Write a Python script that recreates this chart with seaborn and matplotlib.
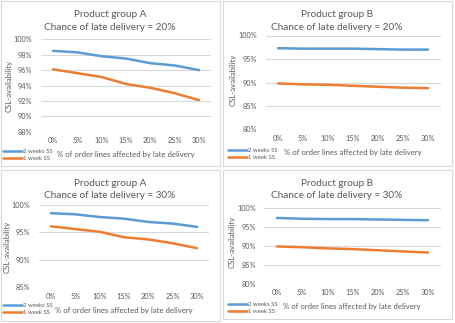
import matplotlib
matplotlib.use("Agg")
import matplotlib.pyplot as plt
import seaborn as sns
import pandas as pd
from matplotlib.patches import Rectangle
from matplotlib.ticker import FuncFormatter

# ---- data ----
x_labels = ["0%", "5%", "10%", "15%", "20%", "25%", "30%"]
series_names = ["2 weeks SS", "1 week SS"]

a20_two = [98.5, 98.3, 97.8, 97.5, 96.9, 96.6, 96.0]
a20_one = [96.1, 95.6, 95.1, 94.2, 93.7, 93.0, 92.1]
b20_two = [97.3, 97.2, 97.2, 97.2, 97.1, 97.0, 97.0]
b20_one = [89.8, 89.6, 89.5, 89.3, 89.1, 88.9, 88.8]
a30_two = [98.5, 98.3, 97.8, 97.5, 96.9, 96.6, 96.0]
a30_one = [96.1, 95.6, 95.1, 94.1, 93.7, 93.0, 92.1]
b30_two = [97.3, 97.1, 97.0, 97.0, 96.9, 96.8, 96.7]
b30_one = [89.8, 89.6, 89.3, 89.1, 88.8, 88.5, 88.2]

titles = [
    "Product group A\nChance of late delivery = 20%",
    "Product group B\nChance of late delivery = 20%",
    "Product group A\nChance of late delivery = 30%",
    "Product group B\nChance of late delivery = 30%",
]
y_ticks = [
    [88, 90, 92, 94, 96, 98, 100],
    [80, 85, 90, 95, 100],
    [85, 90, 95, 100],
    [80, 85, 90, 95, 100],
]
x_title = "% of order lines affected by late delivery"
y_title = "CSL-availability"

# ---- layout (pixels) ----
W, H = 455, 323
sns.set_theme(style="white")
plt.rcParams["font.family"] = ["Lato", "DejaVu Sans"]

fig = plt.figure(figsize=(W / 100, H / 100), dpi=100)
fig.patch.set_facecolor("white")

TXT = "#595959"
GRID = "#D9D9D9"
palette = {"2 weeks SS": "#5B9BD5", "1 week SS": "#ED7D31"}

def fx(px):
    return px / W

def fy(py):
    return 1 - py / H

panels = [
    dict(two=a20_two, one=a20_one, box=(40.8, 211.2, 39.3, 131.7), rect=(1, 1, 220, 166),
         tx=110, ty=21, ylx=9, yly=86, xlx=126, xly=155, lgx=3, lgy=148.5),
    dict(two=b20_two, one=b20_one, box=(265.5, 440.5, 35.5, 129.5), rect=(223, 1, 452, 166),
         tx=337, ty=21, ylx=233, yly=80, xlx=353, xly=153, lgx=228, lgy=148),
    dict(two=a30_two, one=a30_one, box=(38.8, 209.2, 205, 287), rect=(1, 170, 220, 321),
         tx=110, ty=189.5, ylx=7, yly=247, xlx=124, xly=310, lgx=3, lgy=302.5),
    dict(two=b30_two, one=b30_one, box=(264.4, 440.6, 207.7, 283.7), rect=(223, 170, 452, 319),
         tx=337, ty=189.5, ylx=232, yly=242, xlx=352, xly=307, lgx=228, lgy=301.5),
]

for i, p in enumerate(panels):
    x0, y0, x1, y1 = p["rect"]
    fig.add_artist(Rectangle((fx(x0), fy(y1)), fx(x1 - x0), (y1 - y0) / H,
                             transform=fig.transFigure, fill=False,
                             edgecolor="#D9D9D9", linewidth=0.8))
    l, r, t, b = p["box"]
    ax = fig.add_axes([fx(l), fy(b), fx(r - l), (b - t) / H])
    df = pd.DataFrame({
        "x": x_labels * 2,
        "y": p["two"] + p["one"],
        "series": [series_names[0]] * 7 + [series_names[1]] * 7,
    })
    sns.lineplot(data=df, x="x", y="y", hue="series", palette=palette,
                 hue_order=series_names, sort=False, linewidth=1.8, ax=ax, legend=True)
    yt = y_ticks[i]
    ax.set_ylim(yt[0], yt[-1])
    ax.set_yticks(yt)
    ax.yaxis.set_major_formatter(FuncFormatter(lambda v, pos: f"{v:.0f}%"))
    ax.set_xlim(-0.5, 6.5)
    ax.set_xlabel("")
    ax.set_ylabel("")
    for s in ax.spines.values():
        s.set_visible(False)
    ax.grid(axis="y", color=GRID, linewidth=0.8)
    ax.set_axisbelow(True)
    ax.tick_params(axis="both", length=0, labelsize=5.3, labelcolor=TXT, pad=4)
    ax.tick_params(axis="y", pad=6)
    ax.set_facecolor("none")
    handles, labels = ax.get_legend_handles_labels()
    ax.legend(handles, labels, loc="upper left",
              bbox_to_anchor=(fx(p["lgx"]), fy(p["lgy"])),
              bbox_transform=fig.transFigure, frameon=False, fontsize=4.3,
              handlelength=3.2, handletextpad=0.15, labelspacing=0.3,
              borderpad=0, borderaxespad=0, labelcolor=TXT)
    fig.text(fx(p["tx"]), fy(p["ty"]), titles[i], ha="center", va="center",
             fontsize=7.2, color=TXT, linespacing=1.45)
    fig.text(fx(p["ylx"]), fy(p["yly"]), y_title, rotation=90, ha="center",
             va="center", fontsize=5.6, color=TXT)
    fig.text(fx(p["xlx"]), fy(p["xly"]), x_title, ha="center", va="center",
             fontsize=5.6, color=TXT)

fig.savefig("out.png", dpi=100, facecolor="white")
